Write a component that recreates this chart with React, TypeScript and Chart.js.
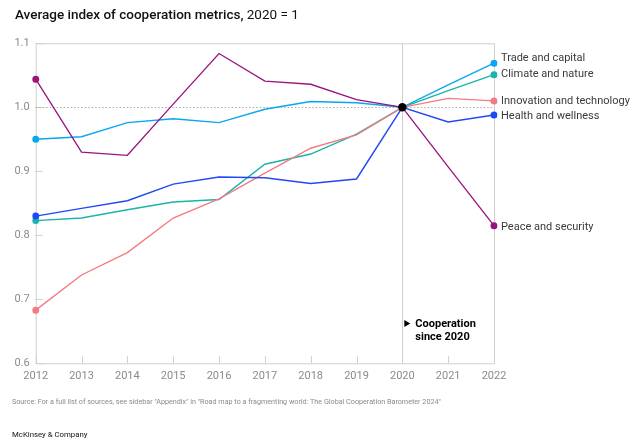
import React, { useEffect, useRef } from "react";
import { Chart, registerables } from "chart.js";

Chart.register(...registerables);

const years = ["2012", "2013", "2014", "2015", "2016", "2017", "2018", "2019", "2020", "2021", "2022"];
const tradeCapital = [0.95, 0.954, 0.976, 0.982, 0.976, 0.997, 1.009, 1.007, 1.0, 1.035, 1.069];
const climateNature = [0.823, 0.827, 0.84, 0.852, 0.856, 0.911, 0.927, 0.958, 1.0, 1.026, 1.051];
const innovationTech = [0.683, 0.738, 0.773, 0.827, 0.857, 0.897, 0.936, 0.957, 1.0, 1.014, 1.01];
const healthWellness = [0.83, 0.842, 0.854, 0.88, 0.891, 0.89, 0.881, 0.888, 1.0, 0.977, 0.988];
const peaceSecurity = [1.044, 0.93, 0.925, 1.005, 1.084, 1.041, 1.036, 1.012, 1.0, 0.907, 0.815];
const seriesNames = ["Trade and capital", "Climate and nature", "Innovation and technology", "Health and wellness", "Peace and security"];
const yTickLabels = ["0.6", "0.7", "0.8", "0.9", "1.0", "1.1"];
const baselineYear = "2020";
const baselineValue = 1.0;
const annotationLines = ["Cooperation", "since 2020"];

const colors = ["#0aa6f0", "#18b5a8", "#f27c82", "#2148f5", "#9a137e"];
const labelOffsets = [-5, -0.5, 0.3, 1, 2];
const FONT = "Roboto, 'Liberation Sans', Arial, sans-serif";

const framePlugin = {
  id: "frame",
  beforeDatasetsDraw(chart: any) {
    const { ctx, chartArea: a, scales } = chart;
    const x = scales.x, y = scales.y;
    ctx.save();
    ctx.strokeStyle = "#cfcfcf";
    ctx.lineWidth = 1;
    ctx.beginPath();
    ctx.moveTo(a.left + 0.5, a.top + 0.5);
    ctx.lineTo(a.right + 0.5, a.top + 0.5);
    ctx.lineTo(a.right + 0.5, a.bottom + 0.5);
    ctx.lineTo(a.left + 0.5, a.bottom + 0.5);
    ctx.closePath();
    ctx.stroke();
    const xb = Math.round(x.getPixelForValue(years.indexOf(baselineYear))) + 0.5;
    ctx.beginPath();
    ctx.moveTo(xb, a.top);
    ctx.lineTo(xb, a.bottom);
    ctx.stroke();
    ctx.beginPath();
    years.forEach((_, i) => {
      const px = Math.round(x.getPixelForValue(i)) + 0.5;
      ctx.moveTo(px, a.bottom);
      ctx.lineTo(px, a.bottom - 7);
    });
    yTickLabels.forEach((t) => {
      const py = Math.round(y.getPixelForValue(parseFloat(t))) + 0.5;
      ctx.moveTo(a.left, py);
      ctx.lineTo(a.left + 7, py);
    });
    ctx.stroke();
    const yb = Math.round(y.getPixelForValue(baselineValue)) + 0.5;
    ctx.strokeStyle = "#aaaaaa";
    ctx.setLineDash([1.5, 2]);
    ctx.beginPath();
    ctx.moveTo(a.left, yb);
    ctx.lineTo(a.right, yb);
    ctx.stroke();
    ctx.restore();
  },
  afterDatasetsDraw(chart: any) {
    const { ctx, chartArea: a, scales } = chart;
    const x = scales.x, y = scales.y;
    ctx.save();
    ctx.font = `11px ${FONT}`;
    ctx.fillStyle = "#3a3a3a";
    ctx.textBaseline = "middle";
    ctx.textAlign = "left";
    seriesNames.forEach((name, i) => {
      const data = chart.data.datasets[i].data;
      const py = y.getPixelForValue(data[data.length - 1]) + labelOffsets[i];
      ctx.fillText(name, a.right + 7, py);
    });
    const xb = x.getPixelForValue(years.indexOf(baselineYear));
    ctx.fillStyle = "#000";
    ctx.beginPath();
    ctx.moveTo(xb + 2, 320);
    ctx.lineTo(xb + 8, 323.5);
    ctx.lineTo(xb + 2, 327);
    ctx.closePath();
    ctx.fill();
    ctx.font = `bold 11px ${FONT}`;
    ctx.fillText(annotationLines[0], xb + 13, 324.5);
    ctx.fillText(annotationLines[1], xb + 13, 337);
    ctx.restore();
  },
};

export default function App() {
  const ref = useRef<HTMLCanvasElement | null>(null);
  useEffect(() => {
    if (!ref.current) return;
    const series = [tradeCapital, climateNature, innovationTech, healthWellness, peaceSecurity];
    const last = years.length - 1;
    const datasets: any[] = series.map((d, i) => ({
      label: seriesNames[i],
      data: d,
      borderColor: colors[i],
      backgroundColor: colors[i],
      borderWidth: i === 4 ? 1.3 : 1.4,
      pointRadius: (c: any) => (c.dataIndex === 0 || c.dataIndex === last ? 3.5 : 0),
      pointBorderWidth: 0,
      pointHoverRadius: 0,
      tension: 0,
      order: 5 - i,
    }));
    datasets.push({
      label: "2020",
      data: years.map((yr) => (yr === baselineYear ? baselineValue : null)),
      borderColor: "#000",
      backgroundColor: "#000",
      pointRadius: 4.2,
      pointBorderWidth: 0,
      showLine: false,
      order: -1,
    });
    const chart = new Chart(ref.current, {
      type: "line",
      data: { labels: years, datasets },
      options: {
        responsive: false,
        animation: false,
        events: [],
        layout: { padding: { left: 0, top: 43.3, right: 145, bottom: 0 } },
        plugins: { legend: { display: false }, tooltip: { enabled: false }, title: { display: false } },
        scales: {
          x: {
            type: "category",
            offset: false,
            grid: { display: false, drawTicks: false },
            border: { display: false },
            ticks: { color: "#8a8a8a", font: { size: 11, family: FONT }, padding: 6, maxRotation: 0, autoSkip: false },
            afterFit: (s: any) => { s.height = 84.7; },
          },
          y: {
            min: 0.6,
            max: 1.1,
            grid: { display: false, drawTicks: false },
            border: { display: false },
            ticks: {
              stepSize: 0.1,
              color: "#8a8a8a",
              font: { size: 11, family: FONT },
              padding: 6,
              callback: (_v: any, i: number) => yTickLabels[i],
            },
            afterFit: (s: any) => { s.width = 35.7; },
          },
        },
      },
      plugins: [framePlugin],
    });
    return () => chart.destroy();
  }, []);

  return (
    <div style={{ position: "fixed", left: 0, top: 0, width: 639, height: 448, background: "#fff", fontFamily: FONT }}>
      <canvas ref={ref} width={639} height={448} style={{ position: "absolute", left: 0, top: 0 }} />
      <div style={{ position: "absolute", left: 15, top: 6, fontSize: 13.5, color: "#111", whiteSpace: "nowrap" }}>
        <span style={{ fontWeight: 500 }}>Average index of cooperation metrics,</span>
        <span style={{ fontWeight: 400 }}> 2020 = 1</span>
      </div>
      <div style={{ position: "absolute", left: 12, top: 397, fontSize: 7.2, color: "#8a8a8a", whiteSpace: "nowrap" }}>
        Source: For a full list of sources, see sidebar "Appendix" in "Road map to a fragmenting world: The Global Cooperation Barometer 2024"
      </div>
      <div style={{ position: "absolute", left: 12, top: 430, fontSize: 7.8, color: "#111", whiteSpace: "nowrap" }}>
        McKinsey &amp; Company
      </div>
    </div>
  );
}
